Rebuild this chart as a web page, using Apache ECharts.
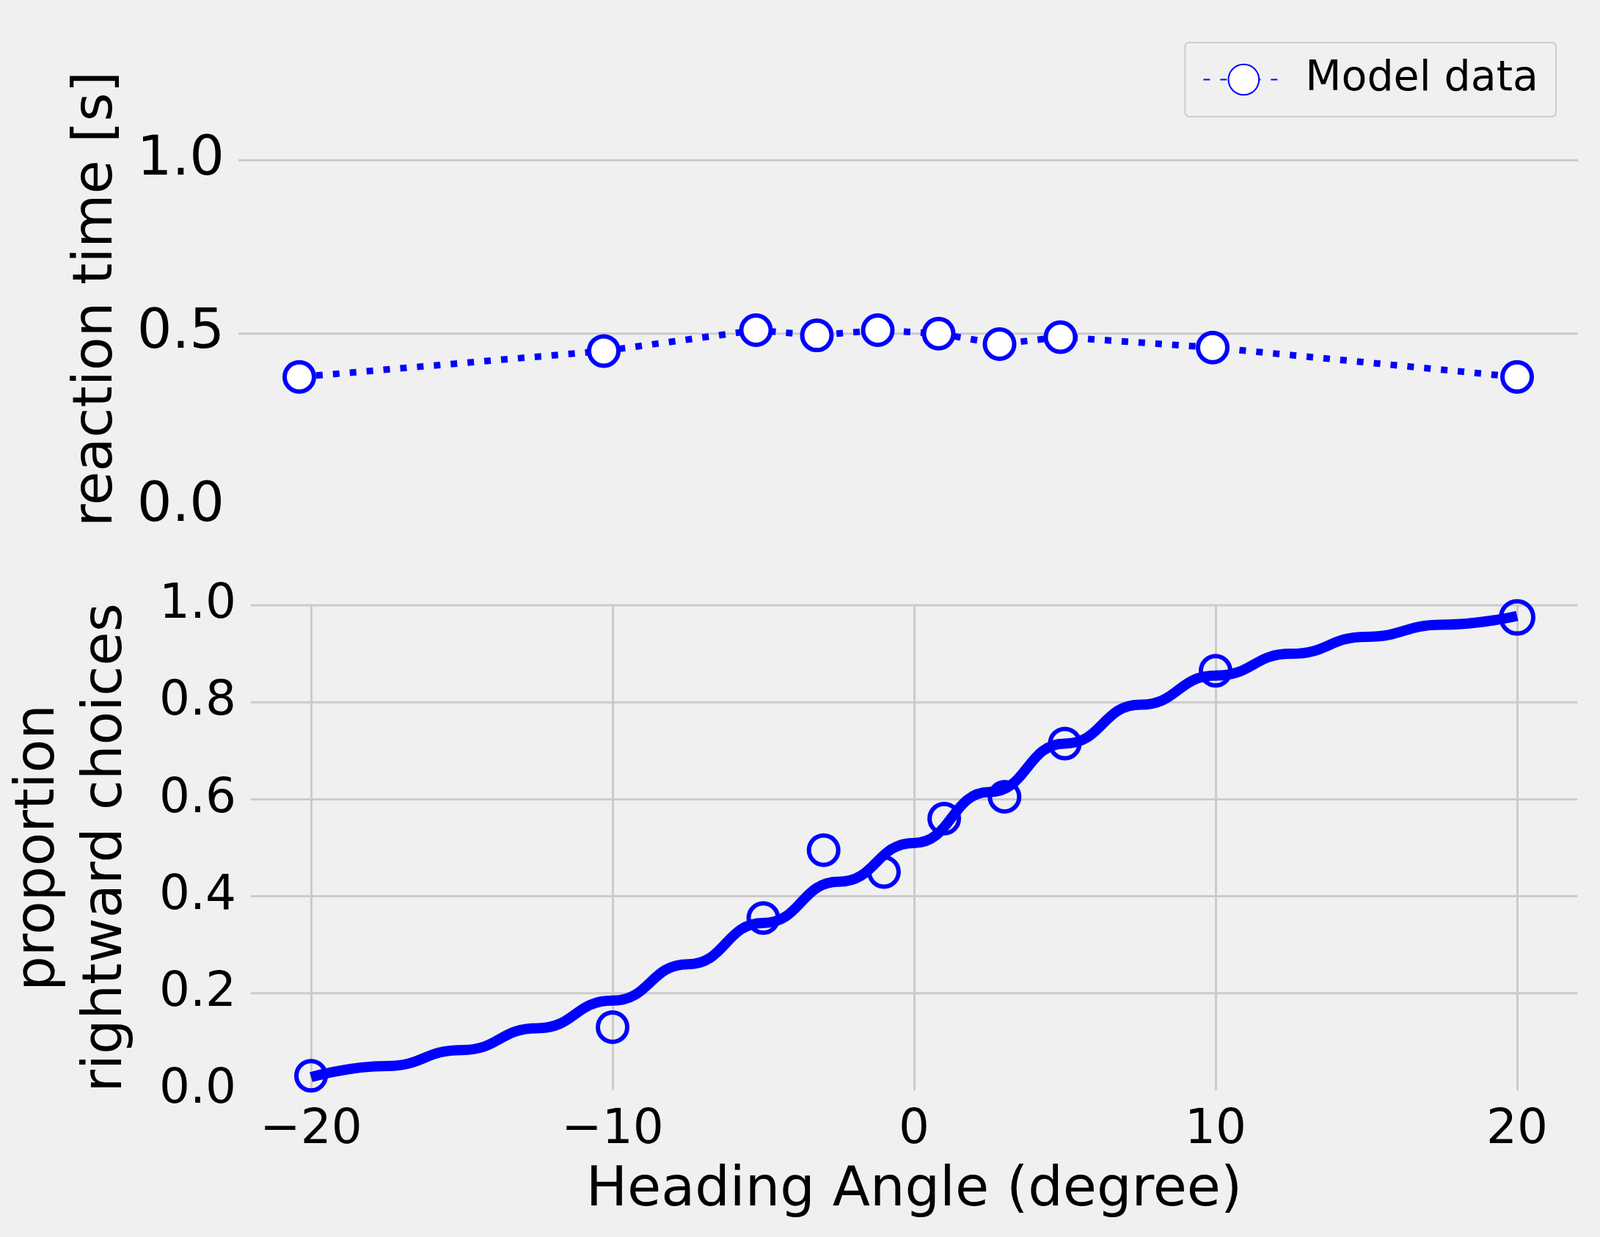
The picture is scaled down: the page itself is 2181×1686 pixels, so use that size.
<!DOCTYPE html>
<html><head><meta charset="utf-8">
<script src="https://cdn.jsdelivr.net/npm/echarts@6/dist/echarts.min.js"></script>
<style>html,body{margin:0;background:#f0f0f0}#c{width:2181px;height:1686px}</style>
</head><body><div id="c"></div>
<script>
const angles=[-20,-10,-5,-3,-1,1,3,5,10,20];
const rtValues=[0.375,0.45,0.51,0.495,0.51,0.5,0.47,0.49,0.46,0.375];
const propValues=[0.03,0.13,0.355,0.495,0.45,0.56,0.605,0.715,0.865,0.975];
const fitX=[-20,-17.5,-15,-12.5,-10,-7.5,-5,-2.5,0,2.5,5,7.5,10,12.5,15,17.5,20];
const fitY=[0.027,0.05,0.083,0.128,0.185,0.26,0.345,0.43,0.51,0.615,0.715,0.795,0.855,0.9,0.935,0.96,0.978];
const topTicks=[0.5,1.0];
const topLabels=[0,0.5,1.0];
const botTicks=[0,0.2,0.4,0.6,0.8,1.0];
const xTicks=[-20,-10,0,10,20];
const blue='#0000ff', grid='#cbcbcb', font='DejaVu Sans';
const ch=echarts.init(document.getElementById('c'));
const fmtX=v=>String(v).replace('-','\u2212');
function hLines(xi,yi,vals){
 return {type:'custom',xAxisIndex:xi,yAxisIndex:yi,silent:true,z:0,clip:false,data:vals.map(v=>[v]),
  renderItem:(p,api)=>{const a=api.coord([-22,api.value(0)]);const b=api.coord([22,api.value(0)]);
   return {type:'line',shape:{x1:a[0],y1:a[1],x2:b[0],y2:b[1]},style:{stroke:grid,lineWidth:3}};}};
}
ch.setOption({
 backgroundColor:'#f0f0f0',
 textStyle:{fontFamily:font},
 legend:{data:['Model data'],right:60,top:58,padding:[22,24],itemWidth:110,itemHeight:52,
  backgroundColor:'#f0f0f0',borderColor:'#cccccc',borderWidth:2,borderRadius:6,
  textStyle:{fontSize:57,color:'#000',fontFamily:font,padding:[0,0,0,24]}},
 grid:[{left:408,right:113,top:124,height:567},{left:408,right:113,top:825,height:661}],
 xAxis:[
  {gridIndex:0,type:'value',min:-20,max:20,interval:10,axisLine:{show:false},axisTick:{show:false},axisLabel:{show:false},splitLine:{show:false}},
  {gridIndex:1,type:'value',min:-20,max:20,interval:10,axisLine:{show:false},axisTick:{show:false},
   axisLabel:{fontSize:66,color:'#000',margin:22,formatter:v=>fmtX(v)},
   splitLine:{show:true,lineStyle:{color:grid,width:3}},
   name:'Heading Angle (degree)',nameLocation:'middle',nameGap:100,nameTextStyle:{fontSize:75,color:'#000'}}
 ],
 yAxis:[
  {gridIndex:0,type:'value',min:0,max:1.2,interval:0.5,axisLine:{show:false},axisTick:{show:false},
   axisLabel:{fontSize:75,color:'#000',margin:102,formatter:v=>topLabels.some(t=>Math.abs(t-v)<1e-9)?v.toFixed(1):''},
   splitLine:{show:false},
   name:'reaction time [s]',nameLocation:'middle',nameGap:238,nameTextStyle:{fontSize:75,color:'#000'}},
  {gridIndex:1,type:'value',min:0,max:1.0,interval:0.2,axisLine:{show:false},axisTick:{show:false},
   axisLabel:{fontSize:66,color:'#000',margin:102,formatter:v=>v.toFixed(1)},
   splitLine:{show:false},
   name:'proportion\nrightward choices',nameLocation:'middle',nameGap:232,nameTextStyle:{fontSize:75,color:'#000',lineHeight:92}}
 ],
 series:[
  hLines(0,0,topTicks),
  hLines(1,1,botTicks.slice(1)),
  {name:'Model data',type:'line',xAxisIndex:0,yAxisIndex:0,data:angles.map((a,i)=>[a,rtValues[i]]),
   symbol:'circle',symbolSize:40,clip:false,itemStyle:{color:'#fff',borderColor:blue,borderWidth:6},
   lineStyle:{color:blue,width:9,type:[9,14]},z:3},
  {name:'fit',type:'line',xAxisIndex:1,yAxisIndex:1,data:fitX.map((a,i)=>[a,fitY[i]]),smooth:0.5,smoothMonotone:'x',
   symbol:'none',clip:false,lineStyle:{color:blue,width:14},z:2},
  {name:'points',type:'scatter',xAxisIndex:1,yAxisIndex:1,data:angles.map((a,i)=>[a,propValues[i]]),clip:false,
   symbol:'circle',symbolSize:40,itemStyle:{color:'rgba(255,255,255,0)',borderColor:blue,borderWidth:6,opacity:1},z:4}
 ]
});
</script></body></html>
